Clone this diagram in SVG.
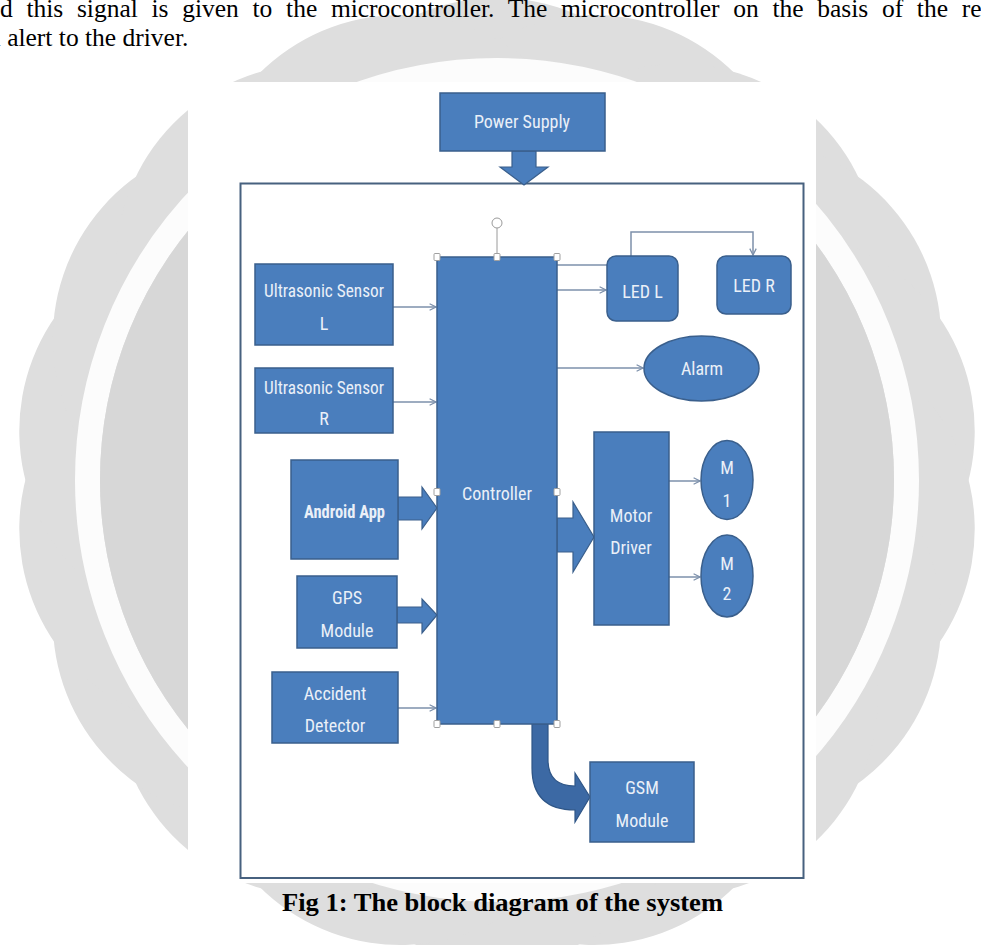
<svg xmlns="http://www.w3.org/2000/svg" xmlns:xlink="http://www.w3.org/1999/xlink" width="981" height="945" viewBox="0 0 981 945">
<defs>
<style>
.box{fill:#4a7ebd;stroke:#3a5f8c;stroke-width:1.5}
.lbl{fill:#eaf0f8;font-family:"Liberation Sans Narrow","Roboto Condensed","Liberation Sans",sans-serif;font-size:18px;text-anchor:middle}
.conn{fill:none;stroke:#7d90ab;stroke-width:1.5}
.blk{fill:#4a7ebd;stroke:#3a5f8c;stroke-width:1.2}
.hdl{fill:#ffffff;stroke:#a0a0a0;stroke-width:1}
.body{font-family:"Liberation Serif","Times New Roman",serif;font-size:25.5px;fill:#000}
</style>
<marker id="ah" viewBox="0 0 10 10" refX="9" refY="5" markerWidth="8" markerHeight="8" orient="auto" markerUnits="userSpaceOnUse">
<path d="M1,1 L9,5 L1,9" fill="none" stroke="#7d90ab" stroke-width="1.6"/>
</marker>
<circle id="bump" cx="0" cy="-282" r="200"/>
</defs>

<g id="watermark" transform="translate(497 480)">
<g fill="#dedede">
<circle cx="0" cy="0" r="300"/>
<use xlink:href="#bump"/>
<use xlink:href="#bump" transform="rotate(20)"/>
<use xlink:href="#bump" transform="rotate(40)"/>
<use xlink:href="#bump" transform="rotate(60)"/>
<use xlink:href="#bump" transform="rotate(80)"/>
<use xlink:href="#bump" transform="rotate(100)"/>
<use xlink:href="#bump" transform="rotate(120)"/>
<use xlink:href="#bump" transform="rotate(140)"/>
<use xlink:href="#bump" transform="rotate(160)"/>
<use xlink:href="#bump" transform="rotate(180)"/>
<use xlink:href="#bump" transform="rotate(200)"/>
<use xlink:href="#bump" transform="rotate(220)"/>
<use xlink:href="#bump" transform="rotate(240)"/>
<use xlink:href="#bump" transform="rotate(260)"/>
<use xlink:href="#bump" transform="rotate(280)"/>
<use xlink:href="#bump" transform="rotate(300)"/>
<use xlink:href="#bump" transform="rotate(320)"/>
<use xlink:href="#bump" transform="rotate(340)"/>
</g>
<circle cx="0" cy="0" r="409.5" fill="none" stroke="#fcfcfc" stroke-width="25"/>
<circle cx="0" cy="0" r="397" fill="#d7d7d7"/>
</g>

<g id="page-text">
<text class="body" x="0" y="17" word-spacing="7.3">d this signal is given to the microcontroller. The microcontroller on the basis of the re</text>
<text class="body" x="-12" y="46">n alert to the driver.</text>
</g>

<rect id="figure-bg" x="188" y="82" width="628" height="801" fill="#ffffff"/>
<rect id="frame" x="240.5" y="183.5" width="563" height="694.5" fill="none" stroke="#47617f" stroke-width="2"/>

<g id="connectors">
<path class="blk" d="M512,151 L536,151 L536,167 L548,167 L524,185 L500,167 L512,167 Z"/>
<line class="conn" x1="393" y1="307" x2="436" y2="307" marker-end="url(#ah)"/>
<line class="conn" x1="393" y1="402" x2="436" y2="402" marker-end="url(#ah)"/>
<line class="conn" x1="398" y1="708" x2="436" y2="708" marker-end="url(#ah)"/>
<path class="blk" d="M398,497 L422,497 L422,487 L437,508 L422,529 L422,520 L398,520 Z"/>
<path class="blk" d="M397,607 L422,607 L422,599 L437,615 L422,633 L422,623 L397,623 Z"/>
<line class="conn" x1="557" y1="265" x2="607" y2="265"/>
<line class="conn" x1="557" y1="290" x2="606" y2="290" marker-end="url(#ah)"/>
<polyline class="conn" points="631,256 631,232 753,232 753,255" marker-end="url(#ah)"/>
<line class="conn" x1="557" y1="368" x2="643" y2="368" marker-end="url(#ah)"/>
<path class="blk" d="M557,518 L573,518 L573,502 L594,537 L573,572 L573,552 L557,552 Z"/>
<line class="conn" x1="669" y1="481" x2="700" y2="481" marker-end="url(#ah)"/>
<line class="conn" x1="669" y1="577" x2="700" y2="577" marker-end="url(#ah)"/>
<path d="M532,724 L532,768 Q532,810 575,810 L575,822 L590,797 L575,773 L575,786 Q548,786 548,760 L548,724 Z" fill="#3c69a4" stroke="#2f5687" stroke-width="1.2"/>
</g>

<g id="power-supply">
<rect class="box" x="440" y="93" width="165" height="58"/>
<text class="lbl" x="522" y="128">Power Supply</text>
</g>

<g id="ultrasonic-l">
<rect class="box" x="255" y="264" width="138" height="81"/>
<text class="lbl" x="324" y="297" textLength="120" lengthAdjust="spacingAndGlyphs">Ultrasonic Sensor</text>
<text class="lbl" x="324" y="330">L</text>
</g>

<g id="ultrasonic-r">
<rect class="box" x="255" y="368" width="138" height="65"/>
<text class="lbl" x="324" y="394" textLength="120" lengthAdjust="spacingAndGlyphs">Ultrasonic Sensor</text>
<text class="lbl" x="324" y="425">R</text>
</g>

<g id="android-app">
<rect class="box" x="291" y="460" width="107" height="99"/>
<text class="lbl" x="344.5" y="518" font-size="17" font-weight="bold" textLength="81" lengthAdjust="spacingAndGlyphs">Android App</text>
</g>

<g id="gps">
<rect class="box" x="297" y="576" width="100" height="72"/>
<text class="lbl" x="347" y="604">GPS</text>
<text class="lbl" x="347" y="637">Module</text>
</g>

<g id="accident">
<rect class="box" x="272" y="672" width="126" height="71"/>
<text class="lbl" x="335" y="700">Accident</text>
<text class="lbl" x="335" y="732">Detector</text>
</g>

<g id="controller">
<rect class="box" x="437" y="257" width="120" height="467"/>
<text class="lbl" x="497" y="500">Controller</text>
</g>

<g id="led-l">
<rect class="box" x="607" y="256" width="71" height="65" rx="9"/>
<text class="lbl" x="642.5" y="298">LED L</text>
</g>

<g id="led-r">
<rect class="box" x="717" y="256" width="74" height="58" rx="9"/>
<text class="lbl" x="754" y="292">LED R</text>
</g>

<g id="alarm">
<ellipse class="box" cx="701.5" cy="368.5" rx="57.5" ry="32.5"/>
<text class="lbl" x="702" y="375">Alarm</text>
</g>

<g id="motor-driver">
<rect class="box" x="594" y="432" width="75" height="193"/>
<text class="lbl" x="631" y="522">Motor</text>
<text class="lbl" x="631" y="554">Driver</text>
</g>

<g id="m1">
<ellipse class="box" cx="727" cy="480" rx="26" ry="39.5"/>
<text class="lbl" x="727" y="474">M</text>
<text class="lbl" x="727" y="507">1</text>
</g>

<g id="m2">
<ellipse class="box" cx="727" cy="576" rx="26" ry="41"/>
<text class="lbl" x="727" y="570">M</text>
<text class="lbl" x="727" y="600">2</text>
</g>

<g id="gsm">
<rect class="box" x="590" y="762" width="104" height="80"/>
<text class="lbl" x="642" y="794">GSM</text>
<text class="lbl" x="642" y="827">Module</text>
</g>

<g id="selection-handles">
<line x1="497" y1="228" x2="497" y2="254" stroke="#9a9a9a" stroke-width="1"/>
<circle cx="497" cy="223" r="5" fill="#ffffff" stroke="#9a9a9a" stroke-width="1"/>
<rect class="hdl" x="434" y="253.5" width="6" height="7" rx="1"/>
<rect class="hdl" x="494" y="253.5" width="6" height="7" rx="1"/>
<rect class="hdl" x="554" y="253.5" width="6" height="7" rx="1"/>
<rect class="hdl" x="434" y="488.5" width="6" height="7" rx="1"/>
<rect class="hdl" x="554" y="488.5" width="6" height="7" rx="1"/>
<rect class="hdl" x="434" y="720.5" width="6" height="7" rx="1"/>
<rect class="hdl" x="494" y="720.5" width="6" height="7" rx="1"/>
<rect class="hdl" x="554" y="720.5" width="6" height="7" rx="1"/>
</g>

<text id="caption" x="282" y="911" textLength="441" lengthAdjust="spacingAndGlyphs" font-family="'Liberation Serif','Times New Roman',serif" font-size="26" font-weight="bold" fill="#000">Fig 1: The block diagram of the system</text>
</svg>
